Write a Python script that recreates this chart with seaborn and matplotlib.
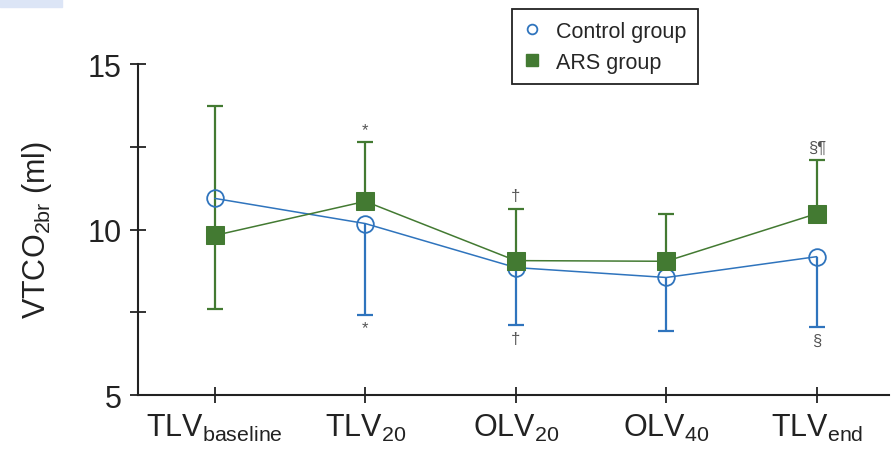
import numpy as np
import pandas as pd
import matplotlib
matplotlib.use('Agg')
import matplotlib.pyplot as plt
import seaborn as sns

# values
phases = [r'TLV$_{\mathrm{baseline}}$', r'TLV$_{\mathrm{20}}$', r'OLV$_{\mathrm{20}}$',
          r'OLV$_{\mathrm{40}}$', r'TLV$_{\mathrm{end}}$']
control_mean = [10.94, 10.18, 8.85, 8.55, 9.18]
control_low = [np.nan, 7.43, 7.10, 6.92, 7.04]
ars_mean = [9.82, 10.85, 9.06, 9.04, 10.48]
ars_high = [13.72, 12.63, 10.63, 10.48, 12.10]
ars_low = [7.61, np.nan, np.nan, np.nan, np.nan]
marks_above = ['', '*', '\u2020', '', '\u00a7\u00b6']
marks_below = ['', '*', '\u2020', '', '\u00a7']

blue = '#2f74bd'
green = '#437a32'

sns.set_style('ticks')
plt.rcParams['font.family'] = ['Liberation Sans', 'DejaVu Sans']
plt.rcParams['mathtext.fontset'] = 'custom'
plt.rcParams['mathtext.rm'] = 'Liberation Sans'
plt.rcParams['mathtext.it'] = 'Liberation Sans:italic'

x = np.arange(len(phases))
df = pd.DataFrame({
    'x': np.concatenate([x, x]),
    'value': control_mean + ars_mean,
    'group': ['Control group'] * 5 + ['ARS group'] * 5,
})

fig = plt.figure(figsize=(8.93, 4.52), dpi=100)
ax = fig.add_axes([138 / 893, 1 - 396 / 452, (889 - 138) / 893, (396 - 65) / 452])


def one_sided(means, ends, color):
    # whisker from mean to end with a cap; skip missing ends
    for xi, m, e in zip(x, means, ends):
        if np.isnan(e):
            continue
        ax.vlines(xi, m, e, color=color, lw=1.6, zorder=1)
        ax.plot([xi], [e], marker='_', markersize=12, markeredgewidth=1.6, color=color, zorder=1)


one_sided(control_mean, control_low, blue)
one_sided(ars_mean, ars_high, green)
one_sided(ars_mean, ars_low, green)

sns.lineplot(data=df[df.group == 'Control group'], x='x', y='value', ax=ax, color=blue, lw=1.1,
             marker='o', markersize=12, markerfacecolor='none', markeredgecolor=blue,
             markeredgewidth=1.3, zorder=2, legend=False)
sns.lineplot(data=df[df.group == 'ARS group'], x='x', y='value', ax=ax, color=green, lw=1.1,
             marker='s', markersize=13, markerfacecolor=green, markeredgecolor=green,
             zorder=3, legend=False)

# significance marks
for i in range(5):
    if marks_above[i]:
        ax.annotate(marks_above[i], (x[i], ars_high[i]), xytext=(0, 4), textcoords='offset points',
                    ha='center', va='bottom', fontsize=12, color='#555555')
    if marks_below[i]:
        ax.annotate(marks_below[i], (x[i], control_low[i]), xytext=(0, -4), textcoords='offset points',
                    ha='center', va='top', fontsize=12, color='#555555')

ax.set_xlim(-0.51, 4.48)
ax.set_ylim(5, 15)
ax.set_xticks(x)
ax.set_xticklabels(phases)
ax.set_yticks([5, 10, 15])
ax.set_yticks([7.5, 12.5], minor=True)
ax.set_xlabel('')
ax.set_ylabel(r'VTCO$_{\mathrm{2br}}$ (ml)', fontsize=22, color='#222222', labelpad=24)
ax.tick_params(axis='both', which='both', direction='inout', length=12, width=1.3,
               color='#222222', labelsize=22, labelcolor='#222222', pad=6)
sns.despine(ax=ax)
for s in ['left', 'bottom']:
    ax.spines[s].set_linewidth(1.5)
    ax.spines[s].set_color('#222222')

handles = [plt.Line2D([], [], ls='none', marker='o', markersize=7, markerfacecolor='none',
                      markeredgecolor=blue, markeredgewidth=1.3),
           plt.Line2D([], [], ls='none', marker='s', markersize=9, color=green)]
leg = ax.legend(handles, ['Control group', 'ARS group'], loc='upper left',
                bbox_to_anchor=(512 / 893, 1 - 10 / 452), bbox_transform=fig.transFigure,
                borderaxespad=0, fancybox=False, edgecolor='#222222', framealpha=1,
                fontsize=15.5, handlelength=0.8, handletextpad=0.7, borderpad=0.55,
                labelspacing=0.45)
leg.get_frame().set_linewidth(1.3)

# light strip at top-left of the screenshot
fig.patches.append(plt.Rectangle((0, 1 - 8 / 452), 62 / 893, 8 / 452, transform=fig.transFigure,
                                 color='#dce5f6', zorder=0))

fig.savefig('out.png', dpi=100)
